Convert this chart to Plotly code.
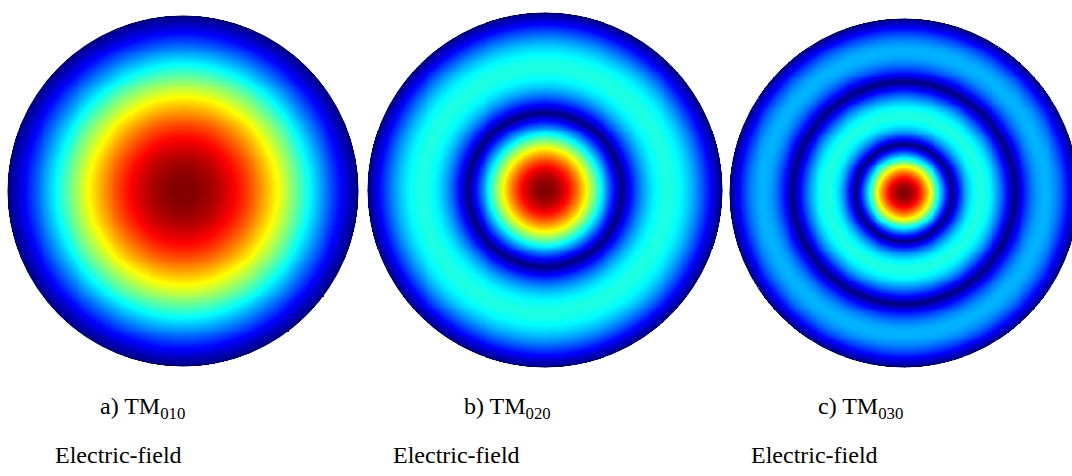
import numpy as np
import plotly.graph_objects as go

# TM0n0 modes of a circular cavity: E_z ~ J0(p_0n * r / a)
mode_labels = ["a) TM<sub>010</sub>", "b) TM<sub>020</sub>", "c) TM<sub>030</sub>"]
field_labels = ["Electric-field", "Electric-field", "Electric-field"]
bessel_roots = [2.405, 5.520, 8.654]   # p_0n, n-th zero of J0

# disc placement on the page (pixels): centre x, centre y, radius
disc_cx = [183, 545, 904]
disc_cy = [191, 190, 193]
disc_r = [175, 177, 174]
label_x = [142, 507, 860]
caption_x = [118, 456, 814]

# MATLAB-style jet colormap
jet = [
    [0.0, "rgb(0,0,128)"],
    [0.125, "rgb(0,0,255)"],
    [0.375, "rgb(0,255,255)"],
    [0.625, "rgb(255,255,0)"],
    [0.875, "rgb(255,0,0)"],
    [1.0, "rgb(128,0,0)"],
]


def bessel_j0(x):
    """J0 via its integral representation (1/pi) * int_0^pi cos(x sin t) dt."""
    t = np.linspace(0.0, np.pi, 401)
    vals = np.cos(np.outer(x, np.sin(t)))
    return np.trapezoid(vals, t, axis=1) / np.pi


N = 361
u = np.linspace(-1.0, 1.0, N)
U, V = np.meshgrid(u, u)
RHO = np.sqrt(U ** 2 + V ** 2)
rho_1d = np.linspace(0.0, 1.0, 2001)

fig = go.Figure()
for k, cx, cy, r in zip(bessel_roots, disc_cx, disc_cy, disc_r):
    radial = np.abs(bessel_j0(k * rho_1d))
    z = np.interp(RHO, rho_1d, radial)
    z[RHO > 1.0] = np.nan
    fig.add_trace(go.Heatmap(
        x=cx + r * u, y=cy + r * u, z=z,
        colorscale=jet, zmin=0, zmax=1, showscale=False,
        zsmooth=False, hoverinfo="skip",
    ))
    fig.add_shape(type="circle", xref="x", yref="y",
                  x0=cx - r, x1=cx + r, y0=cy - r, y1=cy + r,
                  line=dict(color="rgb(0,0,90)", width=1))

font = dict(family="Liberation Serif, Times New Roman, serif", size=24, color="black")
for lx, cxp, ml, fl in zip(label_x, caption_x, mode_labels, field_labels):
    fig.add_annotation(x=lx, y=408, text=ml, showarrow=False, font=font,
                       xref="x", yref="y", xanchor="center", yanchor="middle")
    fig.add_annotation(x=cxp, y=455, text=fl, showarrow=False, font=font,
                       xref="x", yref="y", xanchor="center", yanchor="middle")

fig.update_xaxes(range=[0, 1072], visible=False, showgrid=False, zeroline=False)
fig.update_yaxes(range=[476, 0], visible=False, showgrid=False, zeroline=False)
fig.update_layout(
    width=1072, height=476,
    margin=dict(l=0, r=0, t=0, b=0),
    paper_bgcolor="white", plot_bgcolor="white",
    showlegend=False,
)
fig.write_html("out.html")
